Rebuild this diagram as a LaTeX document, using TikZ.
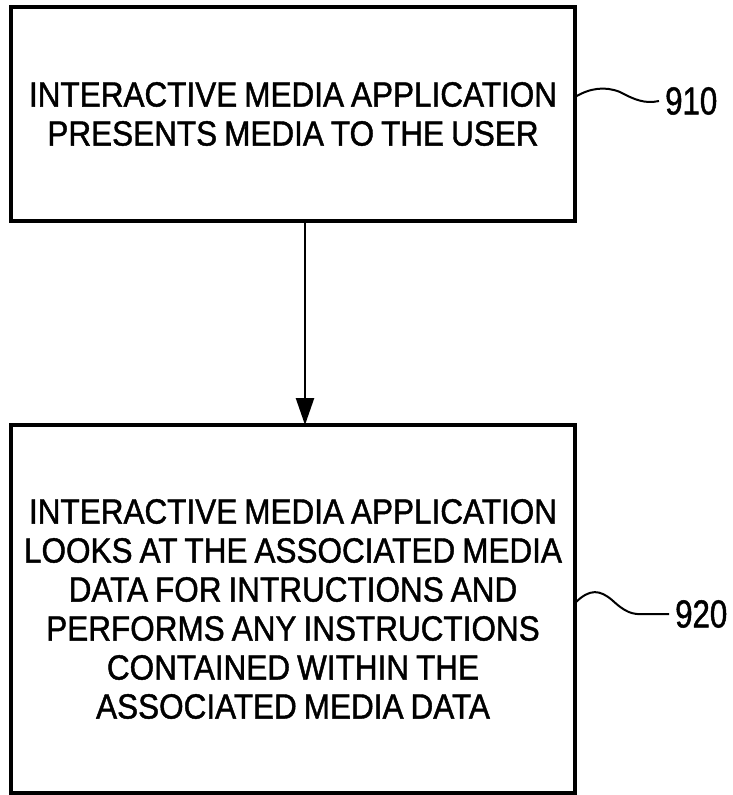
\documentclass[tikz,border=0pt]{standalone}
\usepackage{fontspec}
\newfontfamily\flowfont[FakeStretch=0.9, FakeBold=1.2]{Liberation Sans}
\newfontfamily\tagfont[FakeStretch=0.8, FakeBold=1.2]{Liberation Sans}
\usetikzlibrary{calc,arrows.meta}

\tikzset{
    flowbox/.style={draw, line width=3.5pt, minimum width=564pt, inner sep=0pt,
        outer sep=0pt, text width=560pt, align=center,
        font=\flowfont\fontsize{35}{39}\selectfont,
        execute at begin node={\spaceskip=7pt\relax}},
    leader/.style={line width=2pt},
    tag/.style={inner sep=6pt, anchor=west, font=\tagfont\fontsize{39}{42}\selectfont},
}

\begin{document}
\begin{tikzpicture}[x=1pt,y=-1pt]
        \useasboundingbox (0,0) rectangle (733,795);
        \node[flowbox, minimum height=214pt] (present) at (293,114)
            {INTERACTIVE MEDIA APPLICATION\\PRESENTS MEDIA TO THE USER};
        \node[flowbox, minimum height=368pt] (perform) at (293,609)
            {INTERACTIVE MEDIA APPLICATION\\LOOKS AT THE ASSOCIATED MEDIA\\DATA FOR INTRUCTIONS AND\\PERFORMS ANY INSTRUCTIONS\\CONTAINED WITHIN THE\\ASSOCIATED MEDIA DATA};
        % the one step down
        \draw[line width=2.5pt, -{Triangle[length=27pt,width=18pt]}]
            ([xshift=12pt]present.south) -- ([xshift=12pt]perform.north);
        % reference numerals
        \node[tag] (n910) at (659,101) {910};
        \node[tag] (n920) at (669,614) {920};
        \draw[leader] ([yshift=17pt]present.east) .. controls (590,88) and (605,86) .. (620,92)
            .. controls (635,100) and (645,104) .. (n910.west);
        \draw[leader] ([yshift=6pt]perform.east) .. controls (590,588) and (600,590) .. (612,600)
            .. controls (625,612) and (632,615) .. (645,614) -- (n920.west);
    \end{tikzpicture}
\end{document}
